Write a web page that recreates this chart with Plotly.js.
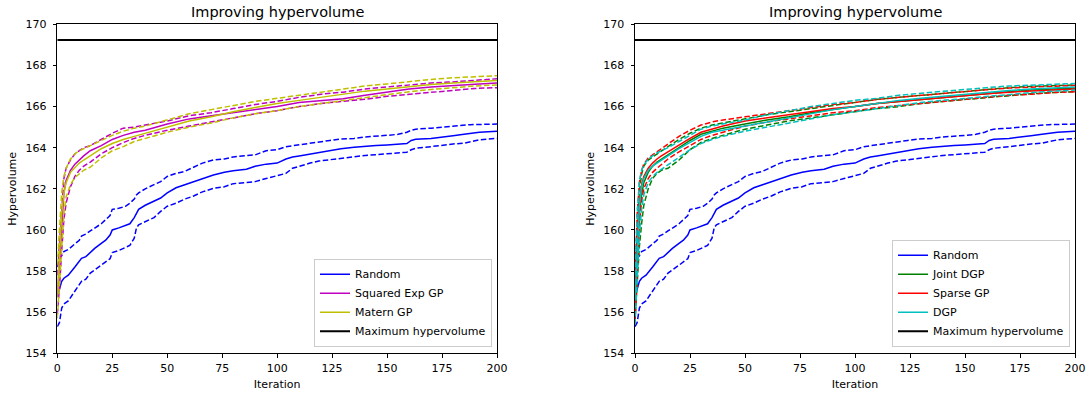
<!DOCTYPE html>
<html>
<head>
<meta charset="utf-8">
<script src="https://cdn.plot.ly/plotly-3.0.1.min.js"></script>
<style>html,body{margin:0;padding:0;background:#fff;}#chart{width:1090px;height:396px;}</style>
</head>
<body>
<div id="chart"></div>
<script>
// ---------- data ----------
const titleText = "Improving hypervolume";
const xTicks = [0, 25, 50, 75, 100, 125, 150, 175, 200];
const yTicks = [154, 156, 158, 160, 162, 164, 166, 168, 170];
const maxHypervolume = 169.24;

// Random search (same in both panels)
const randomIter = [0,1,2,3,5,8,10,11,13,15,17,20,22,24,25,28,31,33,35,36,37,40,44,47,50,54,58,62,66,71,76,80,86,90,95,100,104,107,110,115,119,124,129,135,140,145,150,155,159,161,163,170,175,180,185,188,192,196,200];
const randomMean = [156.75,157.2,157.5,157.65,157.8,158.2,158.45,158.62,158.7,158.9,159.1,159.35,159.5,159.75,160.0,160.1,160.2,160.3,160.6,160.8,161.0,161.2,161.4,161.55,161.8,162.05,162.2,162.35,162.5,162.67,162.8,162.88,162.95,163.1,163.2,163.25,163.45,163.55,163.6,163.7,163.75,163.85,163.95,164.02,164.07,164.1,164.13,164.15,164.2,164.35,164.41,164.45,164.5,164.58,164.65,164.7,164.75,164.78,164.8];
const randomUpper = [158.2,158.6,158.75,158.95,159.05,159.3,159.5,159.7,159.8,159.95,160.1,160.3,160.5,160.7,161.0,161.05,161.15,161.3,161.5,161.7,161.8,162.0,162.2,162.35,162.6,162.75,162.85,163.05,163.25,163.4,163.45,163.55,163.6,163.65,163.85,163.9,164.05,164.1,164.15,164.2,164.3,164.35,164.42,164.45,164.52,164.55,164.6,164.65,164.75,164.85,164.9,164.95,165.0,165.05,165.1,165.12,165.13,165.15,165.15];
const randomLower = [155.3,155.5,156.2,156.4,156.55,157.0,157.3,157.5,157.6,157.9,158.05,158.3,158.45,158.6,158.9,159.0,159.15,159.25,159.6,160.1,160.25,160.4,160.6,160.9,161.15,161.3,161.5,161.65,161.85,162.02,162.1,162.25,162.3,162.35,162.5,162.65,162.75,163.0,163.1,163.25,163.35,163.42,163.48,163.55,163.62,163.66,163.7,163.72,163.78,163.9,163.97,164.05,164.12,164.18,164.22,164.3,164.38,164.42,164.45];

// model-based methods
const gpIter = [0,1,2,3,4,6,8,10,12,15,20,25,30,35,40,50,60,70,80,90,100,110,120,130,140,150,160,170,180,190,200];

const seMean  = [156.8,158.5,160.5,161.8,162.4,162.9,163.2,163.4,163.6,163.85,164.1,164.4,164.6,164.75,164.85,165.15,165.4,165.55,165.7,165.85,166.0,166.2,166.3,166.38,166.55,166.7,166.85,166.95,167.0,167.08,167.15];
const seUpper = [157.8,159.5,161.3,162.5,163.0,163.4,163.7,163.85,164.0,164.1,164.4,164.7,164.95,165.0,165.1,165.3,165.55,165.7,165.9,166.1,166.25,166.45,166.6,166.7,166.85,166.95,167.05,167.15,167.2,167.28,167.35];
const seLower = [155.9,157.2,159.0,160.5,161.3,162.1,162.6,162.9,163.1,163.3,163.7,164.0,164.25,164.45,164.6,164.85,165.05,165.25,165.45,165.65,165.8,166.0,166.15,166.25,166.35,166.5,166.6,166.7,166.8,166.88,166.92];

const maternMean  = [156.7,159.0,160.8,161.8,162.3,162.8,163.05,163.25,163.4,163.6,163.95,164.2,164.4,164.55,164.7,165.0,165.3,165.5,165.75,165.95,166.15,166.3,166.45,166.6,166.75,166.85,166.97,167.07,167.15,167.22,167.27];
const maternUpper = [158.3,160.3,161.8,162.6,163.0,163.45,163.7,163.85,163.95,164.1,164.35,164.6,164.8,164.95,165.05,165.35,165.65,165.85,166.05,166.25,166.4,166.55,166.7,166.85,167.0,167.1,167.22,167.32,167.4,167.45,167.5];
const maternLower = [155.7,157.5,159.4,160.8,161.6,162.2,162.55,162.75,162.9,163.05,163.5,163.85,164.05,164.3,164.45,164.75,165.0,165.2,165.45,165.65,165.8,166.0,166.15,166.3,166.45,166.6,166.72,166.83,166.92,167.0,167.05];

const jointMean  = [156.6,158.8,160.8,161.7,162.3,162.8,163.1,163.3,163.45,163.65,164.0,164.35,164.65,164.8,164.95,165.15,165.35,165.5,165.7,165.85,166.0,166.15,166.25,166.35,166.45,166.55,166.65,166.72,166.8,166.85,166.9];
const jointUpper = [157.6,160.0,161.9,162.7,163.1,163.4,163.55,163.7,163.85,164.05,164.4,164.7,164.95,165.1,165.2,165.4,165.6,165.75,165.9,166.05,166.2,166.35,166.45,166.55,166.65,166.75,166.85,166.92,166.98,167.02,167.05];
const jointLower = [155.6,157.3,159.2,160.3,161.2,162.0,162.5,162.75,162.9,163.0,163.4,163.9,164.25,164.45,164.6,164.9,165.1,165.3,165.45,165.6,165.75,165.9,166.0,166.15,166.25,166.35,166.45,166.55,166.62,166.68,166.72];

const sparseMean  = [156.5,159.5,161.3,162.2,162.6,163.0,163.25,163.45,163.6,163.8,164.15,164.45,164.75,164.9,165.05,165.3,165.45,165.6,165.75,165.9,166.0,166.15,166.25,166.35,166.45,166.55,166.62,166.7,166.75,166.8,166.85];
const sparseUpper = [157.5,160.8,162.3,162.9,163.2,163.5,163.65,163.8,163.95,164.2,164.55,164.85,165.1,165.25,165.35,165.5,165.65,165.8,165.95,166.1,166.2,166.35,166.45,166.55,166.65,166.75,166.82,166.9,166.95,167.0,167.03];
const sparseLower = [155.5,158.2,160.3,161.4,162.0,162.5,162.8,163.0,163.2,163.45,163.8,164.1,164.4,164.6,164.75,165.05,165.25,165.4,165.55,165.7,165.8,165.95,166.05,166.15,166.25,166.35,166.45,166.55,166.6,166.68,166.72];

const dgpMean  = [156.6,159.3,161.2,162.1,162.5,162.9,163.1,163.25,163.4,163.6,163.95,164.25,164.55,164.75,164.85,165.05,165.25,165.45,165.65,165.85,166.0,166.15,166.3,166.4,166.5,166.6,166.7,166.78,166.85,166.9,166.95];
const dgpUpper = [157.8,160.8,162.4,162.9,163.15,163.45,163.6,163.75,163.85,164.0,164.3,164.6,164.9,165.05,165.15,165.35,165.6,165.8,166.0,166.15,166.3,166.4,166.55,166.65,166.75,166.85,166.92,167.0,167.05,167.08,167.12];
const dgpLower = [155.4,157.8,159.8,161.0,161.7,162.3,162.6,162.8,162.95,163.15,163.55,163.9,164.2,164.4,164.55,164.8,165.0,165.2,165.4,165.6,165.75,165.9,166.05,166.2,166.3,166.4,166.5,166.6,166.68,166.75,166.8];

const maxIter = [0, 200];

// ---------- traces ----------
const DASH = '5.5px,2.5px';
const traces = [];
function addMethod(name, color, x, mean, upper, lower, panel) {
  const xa = panel === 1 ? 'x' : 'x2';
  const ya = panel === 1 ? 'y' : 'y2';
  const lg = panel === 1 ? 'legend' : 'legend2';
  traces.push({x: x, y: mean, xaxis: xa, yaxis: ya, mode: 'lines', name: name, legend: lg,
    line: {color: color, width: 1.5}, hoverinfo: 'skip'});
  traces.push({x: x, y: upper, xaxis: xa, yaxis: ya, mode: 'lines', showlegend: false,
    line: {color: color, width: 1.5, dash: DASH}, hoverinfo: 'skip'});
  traces.push({x: x, y: lower, xaxis: xa, yaxis: ya, mode: 'lines', showlegend: false,
    line: {color: color, width: 1.5, dash: DASH}, hoverinfo: 'skip'});
}
function addMax(panel) {
  traces.push({x: maxIter, y: [maxHypervolume, maxHypervolume],
    xaxis: panel === 1 ? 'x' : 'x2', yaxis: panel === 1 ? 'y' : 'y2',
    legend: panel === 1 ? 'legend' : 'legend2',
    mode: 'lines', name: 'Maximum hypervolume', line: {color: '#000000', width: 2}, hoverinfo: 'skip'});
}

addMethod('Random', '#0000ff', randomIter, randomMean, randomUpper, randomLower, 1);
addMethod('Squared Exp GP', '#bf00bf', gpIter, seMean, seUpper, seLower, 1);
addMethod('Matern GP', '#bfbf00', gpIter, maternMean, maternUpper, maternLower, 1);
addMax(1);

addMethod('Random', '#0000ff', randomIter, randomMean, randomUpper, randomLower, 2);
addMethod('Joint DGP', '#008000', gpIter, jointMean, jointUpper, jointLower, 2);
addMethod('Sparse GP', '#ff0000', gpIter, sparseMean, sparseUpper, sparseLower, 2);
addMethod('DGP', '#00bfbf', gpIter, dgpMean, dgpUpper, dgpLower, 2);
addMax(2);

// ---------- layout ----------
const W = 1090, H = 396;
const font = {family: 'DejaVu Sans, sans-serif', size: 11, color: '#000000'};
function xAxis(domain, anchor) {
  return {domain: domain, anchor: anchor, range: [0, 200], tickvals: xTicks, ticktext: xTicks.map(String),
    showgrid: false, zeroline: false, showline: true, linecolor: '#000', linewidth: 1, mirror: true,
    ticks: 'outside', ticklen: 3.5, tickcolor: '#000', tickfont: font, ticklabelstandoff: 1,
    title: {text: 'Iteration', font: font, standoff: 6}};
}
function yAxis(anchor) {
  return {domain: [1 - 353.3 / H, 1 - 24.3 / H], anchor: anchor, range: [154, 170], tickvals: yTicks, ticktext: yTicks.map(String),
    showgrid: false, zeroline: false, showline: true, linecolor: '#000', linewidth: 1, mirror: true,
    ticks: 'outside', ticklen: 3.5, tickcolor: '#000', tickfont: font, ticklabelstandoff: 4,
    title: {text: 'Hypervolume', font: font, standoff: 6}};
}
const legendBase = {font: font, bgcolor: 'rgba(255,255,255,0.8)', bordercolor: '#cccccc', borderwidth: 1,
  xanchor: 'right', yanchor: 'bottom', y: 1 - 346.7 / H, tracegroupgap: 0, itemwidth: 30};

const titleFont = {family: font.family, size: 14.5, color: '#000'};
const layout = {
  width: W, height: H,
  margin: {l: 0, r: 0, t: 0, b: 0},
  paper_bgcolor: '#ffffff', plot_bgcolor: '#ffffff',
  font: font,
  showlegend: true,
  xaxis: xAxis([57.3 / W, 497 / W], 'y'),
  yaxis: yAxis('x'),
  xaxis2: xAxis([635 / W, 1075 / W], 'y2'),
  yaxis2: yAxis('x2'),
  legend: Object.assign({}, legendBase, {x: 492 / W}),
  legend2: Object.assign({}, legendBase, {x: 1070 / W}),
  annotations: [
    {text: titleText, xref: 'paper', yref: 'paper', x: (57.3 + 497) / 2 / W, y: 1 - 12 / H, xanchor: 'center', yanchor: 'middle', showarrow: false, font: titleFont},
    {text: titleText, xref: 'paper', yref: 'paper', x: (635 + 1075) / 2 / W, y: 1 - 12 / H, xanchor: 'center', yanchor: 'middle', showarrow: false, font: titleFont}
  ]
};

Plotly.newPlot('chart', traces, layout, {displayModeBar: false, staticPlot: true});
</script>
</body>
</html>
